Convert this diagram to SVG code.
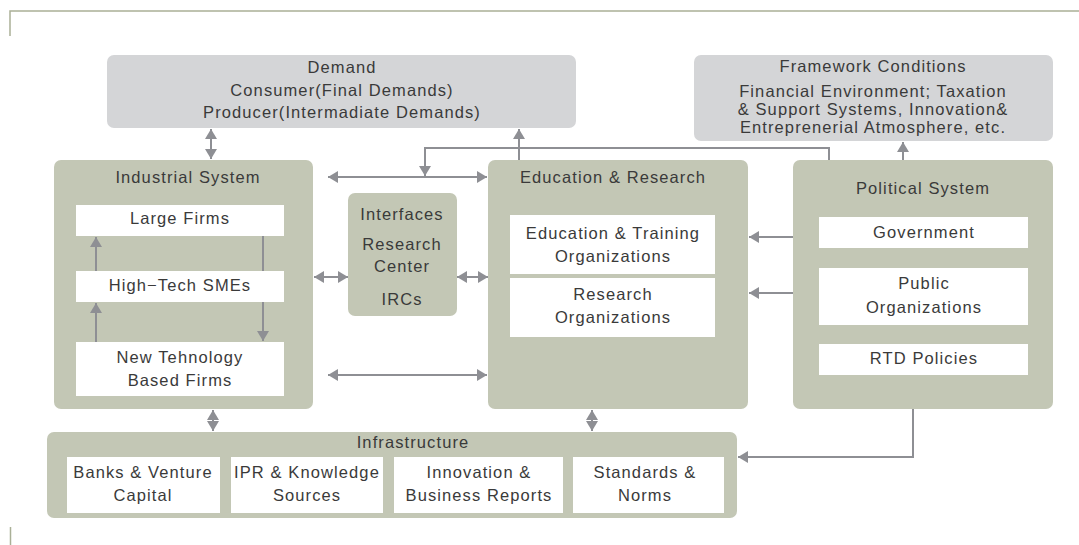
<svg xmlns="http://www.w3.org/2000/svg" width="1079" height="545" viewBox="0 0 1079 545">
<defs>
<style>
.frame{fill:none;stroke:#aab097;stroke-width:1.5}
.grn{fill:#c3c7b5}
.gry{fill:#d4d5d7}
.wht{fill:#ffffff}
text{font-family:"Liberation Sans",Arial,sans-serif;font-size:16.5px;fill:#3a3a3a;letter-spacing:1.1px;text-anchor:middle}
.c{fill:none;stroke:#8e8f94;stroke-width:2}
.d{marker-start:url(#ah);marker-end:url(#ah)}
.e{marker-end:url(#ah)}
</style>
<marker id="ah" viewBox="0 0 10 12" refX="10" refY="6" markerWidth="10" markerHeight="12" markerUnits="userSpaceOnUse" orient="auto-start-reverse">
<path d="M0,0 L10,6 L0,12 z" fill="#8e8f94"/>
</marker>
</defs>
<path class="frame" d="M10,36 V11 H1079"/>
<path class="frame" d="M10.5,527 V545"/>

<g id="demand">
<rect class="gry" x="107" y="55" width="469" height="73" rx="7"/>
<text x="342" y="73">Demand</text>
<text x="342" y="96">Consumer(Final Demands)</text>
<text x="342" y="118">Producer(Intermadiate Demands)</text>
</g>
<g id="framework">
<rect class="gry" x="694" y="55" width="359" height="86" rx="7"/>
<text x="873" y="72">Framework Conditions</text>
<text x="873" y="97">Financial Environment; Taxation</text>
<text x="873" y="115">&amp; Support Systems, Innovation&amp;</text>
<text x="873" y="133">Entreprenerial Atmosphere, etc.</text>
</g>
<g id="industrial">
<rect class="grn" x="54" y="160" width="259" height="249" rx="7"/>
<text x="188" y="183">Industrial System</text>
</g>
<g id="interfaces">
<rect class="grn" x="348" y="193" width="109" height="123" rx="7"/>
<text x="402" y="220">Interfaces</text>
<text x="402" y="250">Research</text>
<text x="402" y="272">Center</text>
<text x="402" y="305">IRCs</text>
</g>
<g id="education">
<rect class="grn" x="488" y="160" width="260" height="249" rx="7"/>
<text x="613" y="183">Education &amp; Research</text>
</g>
<g id="political">
<rect class="grn" x="793" y="160" width="260" height="249" rx="7"/>
<text x="923" y="194">Political System</text>
</g>
<g id="infrastructure">
<rect class="grn" x="47" y="432" width="690" height="86" rx="7"/>
<text x="413" y="448">Infrastructure</text>
</g>

<g id="connectors">
<path class="c d" d="M211,129 V159"/>
<path class="c e" d="M829,160 V148 H425 V176"/>
<path class="c d" d="M328,177 H487"/>
<path class="c e" d="M519,160 V129"/>
<path class="c e" d="M903,160 V142"/>
<path class="c d" d="M314,277 H348"/>
<path class="c d" d="M457,277 H488"/>
<path class="c d" d="M328,375 H487"/>
<path class="c e" d="M793,237 H749"/>
<path class="c e" d="M793,293 H749"/>
<path class="c d" d="M213,410 V431"/>
<path class="c d" d="M592,410 V431"/>
<path class="c e" d="M913,409 V457 H738"/>
<path class="c e" d="M96,342 V303"/>
<path class="c e" d="M96,271 V237"/>
<path class="c e" d="M263,236 V341"/>
</g>

<g id="large-firms">
<rect class="wht" x="76" y="205" width="208" height="31"/>
<text x="180" y="224">Large Firms</text>
</g>
<g id="high-tech-smes">
<rect class="wht" x="76" y="271" width="208" height="31"/>
<text x="180" y="291">High−Tech SMEs</text>
</g>
<g id="ntbf">
<rect class="wht" x="76" y="342" width="208" height="54"/>
<text x="180" y="363">New Tehnology</text>
<text x="180" y="386">Based Firms</text>
</g>
<g id="edu-training">
<rect class="wht" x="510" y="215" width="205" height="59"/>
<text x="613" y="239">Education &amp; Training</text>
<text x="613" y="262">Organizations</text>
</g>
<g id="research-org">
<rect class="wht" x="510" y="278" width="205" height="59"/>
<text x="613" y="300">Research</text>
<text x="613" y="323">Organizations</text>
</g>
<g id="government">
<rect class="wht" x="819" y="217" width="209" height="31"/>
<text x="924" y="238">Government</text>
</g>
<g id="public-org">
<rect class="wht" x="819" y="268" width="209" height="57"/>
<text x="924" y="289">Public</text>
<text x="924" y="313">Organizations</text>
</g>
<g id="rtd">
<rect class="wht" x="819" y="344" width="209" height="31"/>
<text x="924" y="364">RTD Policies</text>
</g>
<g id="banks">
<rect class="wht" x="67" y="457" width="153" height="56"/>
<text x="143" y="478">Banks &amp; Venture</text>
<text x="143" y="501">Capital</text>
</g>
<g id="ipr">
<rect class="wht" x="231" y="457" width="152" height="56"/>
<text x="307" y="478">IPR &amp; Knowledge</text>
<text x="307" y="501">Sources</text>
</g>
<g id="innovation">
<rect class="wht" x="394" y="457" width="169" height="56"/>
<text x="479" y="478">Innovation &amp;</text>
<text x="479" y="501">Business Reports</text>
</g>
<g id="standards">
<rect class="wht" x="573" y="457" width="151" height="56"/>
<text x="645" y="478">Standards &amp;</text>
<text x="645" y="501">Norms</text>
</g>
</svg>
